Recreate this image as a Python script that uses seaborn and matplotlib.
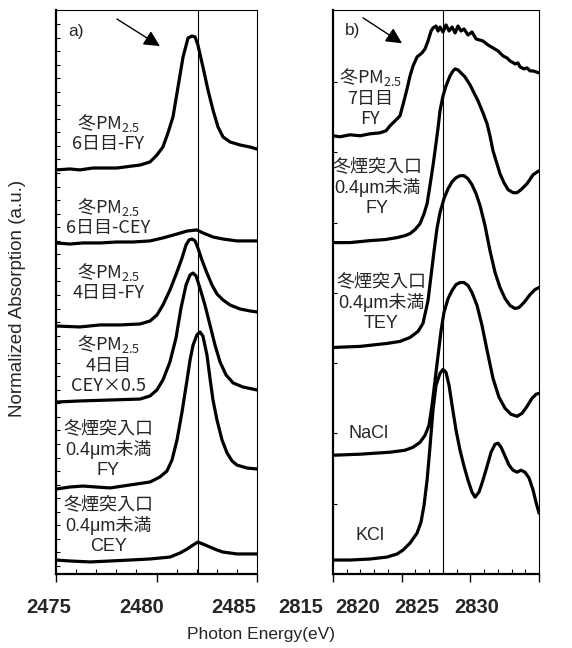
import numpy as np
import pandas as pd
import matplotlib
matplotlib.use("Agg")
import matplotlib.pyplot as plt
import seaborn as sns

sns.set_theme(style="white")
plt.rcParams['font.family'] = ['Liberation Sans', 'Noto Sans CJK JP', 'DejaVu Sans']
plt.rcParams['mathtext.fontset'] = 'custom'
plt.rcParams['mathtext.rm'] = 'Noto Sans CJK JP'
plt.rcParams['mathtext.it'] = 'Noto Sans CJK JP'
plt.rcParams['mathtext.bf'] = 'Noto Sans CJK JP:bold'
plt.rcParams['mathtext.default'] = 'rm'

# ---------------- data: panel a (S K-edge) ----------------
a_tick_values = [2475, 2480, 2485]
a_tick_labels = ["2475", "2480", "2485"]
a_ref_line = 2482.05

a1_E = [2475.0, 2475.70, 2476.19, 2476.84, 2478.03, 2479.18, 2479.68, 2480.02, 2480.32, 2480.57, 2480.82,
        2481.07, 2481.32, 2481.57, 2481.77, 2481.92, 2482.06, 2482.31, 2482.56, 2482.81, 2483.06, 2483.31,
        2483.66, 2484.15, 2484.65, 2485.0]
a1_y = [29.23, 29.30, 29.23, 29.37, 29.37, 29.59, 29.82, 30.33, 30.92, 31.96, 33.14, 35.35, 37.56, 38.97,
        39.11, 39.04, 38.45, 36.83, 35.13, 33.65, 32.40, 31.66, 31.29, 31.07, 30.92, 30.77]

a2_E = [2475.0, 2475.70, 2476.34, 2477.19, 2478.03, 2478.83, 2479.68, 2480.32, 2481.02, 2481.52, 2482.01,
        2482.31, 2482.81, 2483.31, 2484.0, 2485.0]
a2_y = [23.84, 23.76, 23.84, 23.84, 23.91, 23.91, 23.99, 24.21, 24.50, 24.72, 24.80, 24.58, 24.28, 24.13,
        23.99, 23.99]

a3_E = [2475.0, 2476.19, 2477.19, 2478.18, 2479.18, 2479.68, 2480.02, 2480.32, 2480.67, 2481.02, 2481.27,
        2481.47, 2481.62, 2481.77, 2481.92, 2482.06, 2482.26, 2482.51, 2482.76, 2483.01, 2483.31, 2483.66,
        2484.15, 2484.65, 2485.0]
a3_y = [17.71, 17.64, 17.79, 17.79, 17.86, 18.08, 18.52, 19.26, 20.37, 21.70, 22.73, 23.69, 24.06, 24.13,
        23.99, 23.47, 22.58, 21.62, 20.74, 20.07, 19.63, 19.26, 18.97, 18.82, 18.75]

a4_E = [2475.0, 2476.19, 2477.69, 2479.18, 2479.68, 2480.02, 2480.32, 2480.67, 2480.97, 2481.22, 2481.47,
        2481.67, 2481.82, 2481.97, 2482.16, 2482.41, 2482.66, 2482.91, 2483.16, 2483.46, 2483.81, 2484.30,
        2485.0]
a4_y = [12.10, 12.18, 12.25, 12.32, 12.55, 12.99, 13.73, 15.06, 16.83, 19.04, 20.74, 21.48, 21.62, 21.40,
        20.52, 19.26, 17.79, 16.31, 15.06, 14.10, 13.51, 13.21, 12.99]

a5_E = [2475.0, 2475.70, 2476.34, 2476.99, 2477.69, 2478.68, 2479.68, 2480.17, 2480.52, 2480.77, 2481.02,
        2481.27, 2481.52, 2481.67, 2481.82, 2482.01, 2482.16, 2482.31, 2482.51, 2482.66, 2482.81, 2483.01,
        2483.26, 2483.51, 2483.76, 2484.0, 2484.50, 2485.0]
a5_y = [5.68, 5.83, 5.90, 5.83, 5.76, 5.98, 6.20, 6.57, 7.01, 7.82, 9.30, 11.37, 13.73, 15.20, 16.31, 17.05,
        17.27, 16.97, 15.57, 13.87, 12.25, 10.77, 9.30, 8.34, 7.75, 7.45, 7.23, 7.16]

a6_E = [2475.0, 2475.70, 2476.69, 2477.69, 2478.68, 2479.68, 2480.67, 2481.17, 2481.52, 2481.82, 2482.06,
        2482.31, 2482.66, 2483.01, 2483.31, 2484.0, 2485.0]
a6_y = [0.44, 0.37, 0.30, 0.37, 0.44, 0.52, 0.66, 0.96, 1.25, 1.55, 1.77, 1.62, 1.40, 1.18, 1.03, 0.89, 0.89]

a_labels = ["冬PM$_{2.5}$\n6日目-FY", "冬PM$_{2.5}$\n6日目-CEY", "冬PM$_{2.5}$\n4日目-FY",
            "冬PM$_{2.5}$\n4日目\nCEY×0.5", "冬煙突入口\n0.4μm未満\nFY", "冬煙突入口\n0.4μm未満\nCEY"]

# ---------------- data: panel b (Cl K-edge) ----------------
b_tick_values = [2815, 2820, 2825, 2830]
b_tick_labels = ["2815", "2820", "2825", "2830"]
b_ref_line = 2823.0

b1_E = [2815.00, 2815.51, 2816.24, 2816.97, 2817.69, 2818.42, 2818.86, 2819.15, 2819.52, 2819.88, 2820.17,
        2820.39, 2820.61, 2820.83, 2821.12, 2821.48, 2821.70, 2821.92, 2822.14, 2822.28, 2822.50, 2822.65,
        2822.79, 2823.01, 2823.23, 2823.45, 2823.67, 2823.89, 2824.10, 2824.32, 2824.54, 2824.83, 2825.12,
        2825.42, 2825.92, 2826.29, 2826.65, 2827.02, 2827.38, 2827.67, 2827.89, 2828.26, 2828.47, 2828.62,
        2828.91, 2829.13, 2829.35, 2829.57, 2829.78, 2830.00]
b1_y = [6.236, 6.222, 6.250, 6.236, 6.264, 6.278, 6.307, 6.378, 6.449, 6.520, 6.733, 6.903, 7.088, 7.230,
        7.358, 7.415, 7.472, 7.585, 7.727, 7.770, 7.798, 7.727, 7.784, 7.713, 7.813, 7.727, 7.784, 7.699,
        7.798, 7.727, 7.756, 7.670, 7.713, 7.614, 7.585, 7.528, 7.486, 7.443, 7.372, 7.344, 7.301, 7.259,
        7.273, 7.216, 7.188, 7.202, 7.159, 7.159, 7.145, 7.131]

b2_E = [2815.00, 2816.24, 2817.69, 2818.79, 2819.66, 2820.24, 2820.61, 2820.97, 2821.34, 2821.63, 2821.85,
        2822.06, 2822.28, 2822.43, 2822.65, 2822.79, 2823.01, 2823.23, 2823.52, 2823.74, 2823.89, 2824.10,
        2824.32, 2824.61, 2824.98, 2825.27, 2825.56, 2825.92, 2826.22, 2826.43, 2826.65, 2826.94, 2827.16,
        2827.45, 2827.75, 2828.11, 2828.40, 2828.69, 2829.13, 2829.57, 2830.00]
b2_y = [4.716, 4.716, 4.744, 4.759, 4.787, 4.815, 4.844, 4.901, 4.986, 5.128, 5.270, 5.526, 5.810, 6.023,
        6.349, 6.591, 6.804, 6.946, 7.088, 7.159, 7.188, 7.173, 7.131, 7.074, 6.960, 6.847, 6.733, 6.563,
        6.406, 6.236, 6.023, 5.838, 5.696, 5.568, 5.469, 5.426, 5.426, 5.469, 5.554, 5.682, 5.739]

b3_E = [2815.00, 2816.97, 2818.93, 2819.88, 2820.61, 2821.19, 2821.55, 2821.92, 2822.14, 2822.36, 2822.57,
        2822.79, 2823.08, 2823.38, 2823.67, 2823.96, 2824.25, 2824.54, 2824.83, 2825.12, 2825.42, 2825.71,
        2826.07, 2826.43, 2826.80, 2827.16, 2827.53, 2827.89, 2828.26, 2828.55, 2828.91, 2829.35, 2829.71,
        2830.00]
b3_y = [3.224, 3.239, 3.281, 3.310, 3.366, 3.452, 3.565, 3.892, 4.247, 4.602, 4.915, 5.142, 5.341, 5.483,
        5.582, 5.639, 5.668, 5.668, 5.625, 5.540, 5.412, 5.241, 4.957, 4.602, 4.290, 4.077, 3.920, 3.821,
        3.778, 3.793, 3.864, 3.977, 4.048, 4.077]

b4_E = [2815.00, 2816.97, 2819.15, 2820.24, 2820.83, 2821.34, 2821.70, 2821.99, 2822.21, 2822.43, 2822.65,
        2822.87, 2823.08, 2823.38, 2823.67, 2823.96, 2824.25, 2824.54, 2824.83, 2825.12, 2825.49, 2825.85,
        2826.22, 2826.65, 2827.09, 2827.53, 2827.96, 2828.40, 2828.77, 2829.13, 2829.49, 2829.78, 2830.00]
b4_y = [1.690, 1.705, 1.733, 1.761, 1.804, 1.875, 1.974, 2.116, 2.401, 2.756, 3.111, 3.466, 3.722, 3.920,
        4.034, 4.119, 4.148, 4.148, 4.105, 4.006, 3.821, 3.537, 3.182, 2.784, 2.514, 2.358, 2.273, 2.244,
        2.287, 2.386, 2.500, 2.557, 2.571]

b5_E = [2815.00, 2816.24, 2817.69, 2818.93, 2819.66, 2820.10, 2820.61, 2821.12, 2821.41, 2821.63, 2821.85,
        2822.06, 2822.28, 2822.50, 2822.79, 2823.01, 2823.23, 2823.45, 2823.67, 2823.96, 2824.25, 2824.54,
        2824.83, 2825.12, 2825.34, 2825.63, 2825.92, 2826.22, 2826.51, 2826.80, 2827.02, 2827.24, 2827.53,
        2827.82, 2828.11, 2828.40, 2828.69, 2828.98, 2829.28, 2829.57, 2829.78, 2830.00]
b5_y = [0.199, 0.199, 0.213, 0.241, 0.284, 0.341, 0.440, 0.582, 0.739, 0.980, 1.335, 1.804, 2.330, 2.685,
        2.855, 2.912, 2.869, 2.685, 2.401, 2.045, 1.761, 1.534, 1.335, 1.165, 1.094, 1.165, 1.335, 1.534,
        1.733, 1.847, 1.861, 1.804, 1.676, 1.548, 1.477, 1.449, 1.477, 1.449, 1.364, 1.193, 1.023, 0.866]

b_labels = ["冬PM$_{2.5}$\n7日目\nFY", "冬煙突入口\n0.4μm未満\nFY", "冬煙突入口\n0.4μm未満\nTEY",
            "NaCl", "KCl"]

# ---------------- figure ----------------
W, H = 572, 648
fig = plt.figure(figsize=(W / 100, H / 100), dpi=100)
axa = fig.add_axes([56 / W, 1 - 574 / H, 201 / W, 564 / H])
axb = fig.add_axes([333 / W, 1 - 574 / H, 206 / W, 564 / H])

lw = 2.3
a_curves = [(a1_E, a1_y), (a2_E, a2_y), (a3_E, a3_y), (a4_E, a4_y), (a5_E, a5_y), (a6_E, a6_y)]
b_curves = [(b1_E, b1_y), (b2_E, b2_y), (b3_E, b3_y), (b4_E, b4_y), (b5_E, b5_y)]
for E, y in a_curves:
    sns.lineplot(x=E, y=y, ax=axa, color='black', lw=lw, sort=False, estimator=None)
for E, y in b_curves:
    sns.lineplot(x=E, y=y, ax=axb, color='black', lw=lw, sort=False, estimator=None)

axa.axvline(a_ref_line, color='black', lw=0.8)
axb.axvline(b_ref_line, color='black', lw=0.8)

axa.set_xlim(a_tick_values[0], a_tick_values[-1])
axa.set_ylim(-0.59, 41.03)
axb.set_xlim(b_tick_values[0], b_tick_values[-1])
axb.set_ylim(0, 8.026)

for ax, ticks, yt in [(axa, a_tick_values, np.arange(0, 41)), (axb, b_tick_values, np.arange(1, 8))]:
    ax.set_xticks(ticks)
    ax.set_xticklabels([])
    ax.set_xticks(np.arange(ticks[0], ticks[-1] + 1, 1), minor=True)
    ax.set_yticks(yt)
    ax.set_yticklabels([])
    ax.tick_params(axis='x', which='major', direction='out', length=5.5, width=1.0, color='black', bottom=True)
    ax.tick_params(axis='x', which='minor', direction='in', length=3.5, width=0.8, color='black', bottom=True)
    ax.tick_params(axis='y', which='major', direction='in', length=3, width=0.8, color='black', left=True)
    for s in ['left', 'bottom']:
        ax.spines[s].set_linewidth(1.6)
        ax.spines[s].set_color('black')
    for s in ['top', 'right']:
        ax.spines[s].set_linewidth(0.8)
        ax.spines[s].set_color('black')
    ax.set_xlabel('')
    ax.set_ylabel('')

# tick labels (offset as in the reference)
for xf, lab in zip([-0.035, 0.428, 0.886], a_tick_labels):
    axa.text(xf, -0.059, lab, transform=axa.transAxes, ha='center', va='center',
             fontsize=14.5, fontweight='bold')
for xf, lab in zip([-0.155, 0.121, 0.408, 0.699], b_tick_labels):
    axb.text(xf, -0.059, lab, transform=axb.transAxes, ha='center', va='center',
             fontsize=14.5, fontweight='bold')

# curve labels
fs = 13


def put_label(ax, x, y, lab):
    kw = dict(ha='center', va='center', fontsize=fs, linespacing=1.2)
    if '$' in lab:
        kw['family'] = ['Noto Sans CJK JP']
        kw['linespacing'] = 1.12
    ax.text(x, y, lab, **kw)


for (x, y), lab in zip([(2477.6, 32.0), (2477.6, 25.8), (2477.6, 21.0), (2477.6, 14.9),
                        (2477.6, 8.6), (2477.6, 3.0)], a_labels):
    put_label(axa, x, y, lab)
for (x, y), lab in zip([(2817.7, 6.79), (2818.2, 5.50), (2818.5, 3.86), (2817.6, 2.0), (2817.7, 0.55)],
                       b_labels):
    put_label(axb, x, y, lab)

# panel letters and arrows
axa.text(0.06, 0.961, "a)", transform=axa.transAxes, ha='left', va='center', fontsize=12.5)
axb.text(0.058, 0.963, "b)", transform=axb.transAxes, ha='left', va='center', fontsize=12.5)
arrow_kw = dict(arrowstyle='-|>', color='black', lw=1.0, mutation_scale=24, shrinkA=0, shrinkB=0)
axa.annotate("", xy=(0.517, 0.936), xytext=(0.303, 0.984), xycoords='axes fraction',
             textcoords='axes fraction', arrowprops=arrow_kw)
axb.annotate("", xy=(0.335, 0.941), xytext=(0.146, 0.986), xycoords='axes fraction',
             textcoords='axes fraction', arrowprops=arrow_kw)

fig.text(18 / W, 1 - 298 / H, "Normalized Absorption (a.u.)", rotation=90, ha='center', va='center',
         fontsize=13.5)
fig.text(261 / W, 1 - 634 / H, "Photon Energy(eV)", ha='center', va='center', fontsize=12.5)

fig.savefig("out.png", dpi=100)
